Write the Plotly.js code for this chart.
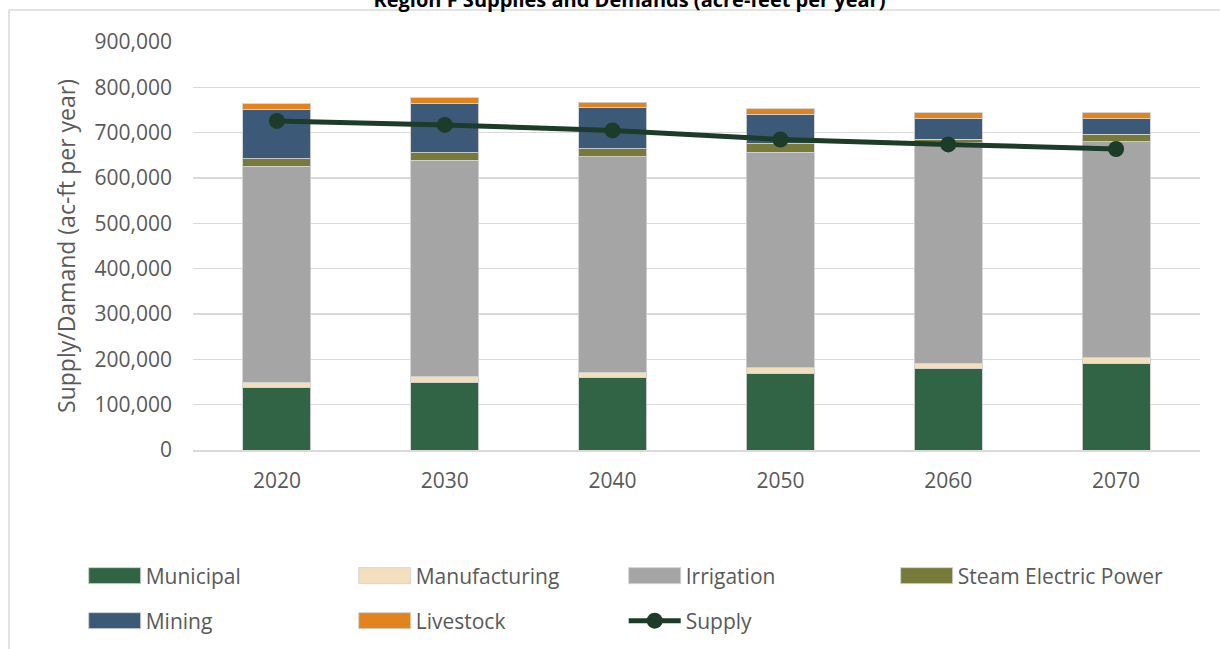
<!DOCTYPE html>
<html>
<head>
<meta charset="utf-8">
<script src="https://cdn.plot.ly/plotly-3.0.1.min.js"></script>
<style>html,body{margin:0;padding:0;background:#fff;}#chart{width:1220px;height:649px;}</style>
</head>
<body>
<div id="chart"></div>
<script>
// Data (acre-feet per year)
var years = ['2020', '2030', '2040', '2050', '2060', '2070'];
var municipal = [137000, 149000, 159000, 168000, 179000, 190000];
var manufacturing = [12000, 13000, 12000, 13000, 12000, 13000];
var irrigation = [477000, 477000, 476000, 476000, 487000, 477000];
var steamElectric = [17000, 17000, 18000, 19000, 8000, 17000];
var mining = [108000, 109000, 90000, 65000, 46000, 34000];
var livestock = [13000, 12000, 12000, 12000, 12000, 13000];
var supply = [726000, 717000, 705000, 685000, 674000, 664000];

var yTickVals = [0, 100000, 200000, 300000, 400000, 500000, 600000, 700000, 800000, 900000];
var yTickText = ['0', '100,000', '200,000', '300,000', '400,000', '500,000', '600,000', '700,000', '800,000', '900,000'];

var FONT = 'Open Sans, Liberation Sans, sans-serif';
var TXT = '#595959';
var edge = {color: 'rgba(210,210,210,0.9)', width: 1};

function barTrace(name, vals, color, leg) {
  return {type: 'bar', name: name, x: years, y: vals,
    marker: {color: color, line: edge}, legend: leg, hoverinfo: 'skip'};
}

var traces = [
  barTrace('Municipal', municipal, '#306444', 'legend'),
  barTrace('Manufacturing', manufacturing, '#f3dfbe', 'legend'),
  barTrace('Irrigation', irrigation, '#a5a5a5', 'legend'),
  barTrace('Steam Electric Power', steamElectric, '#787a3a', 'legend3'),
  barTrace('Mining', mining, '#3c5a78', 'legend2'),
  barTrace('Livestock', livestock, '#e2831d', 'legend2'),
  {type: 'scatter', mode: 'lines+markers', name: 'Supply', x: years, y: supply,
   line: {color: '#1d3b29', width: 5}, marker: {color: '#1d3b29', size: 16},
   legend: 'legend2', hoverinfo: 'skip'}
];

var legendBase = {
  orientation: 'h', xref: 'container', yref: 'container', xanchor: 'left', yanchor: 'middle',
  x: 0.0686, entrywidth: 203, entrywidthmode: 'pixels', itemwidth: 52,
  font: {family: FONT, size: 21, color: TXT}, bgcolor: 'rgba(0,0,0,0)', traceorder: 'normal'
};

var layout = {
  width: 1220, height: 649,
  margin: {l: 193, r: 20, t: 42, b: 199},
  paper_bgcolor: '#ffffff', plot_bgcolor: '#ffffff',
  barmode: 'stack', bargap: 0.595,
  font: {family: FONT, color: TXT},
  title: {text: '<b>Region F Supplies and Demands (acre-feet per year)</b>',
    font: {family: FONT, size: 20, color: '#000000'},
    x: 0.516, xanchor: 'center', y: 1, yref: 'container', yanchor: 'middle'},
  xaxis: {type: 'category', showgrid: false, showline: true, linecolor: '#d9d9d9', linewidth: 1.5,
    ticks: '', tickfont: {family: FONT, size: 21, color: TXT}, ticklabelstandoff: 11, fixedrange: true},
  yaxis: {range: [0, 900000], tickvals: yTickVals, ticktext: yTickText,
    showgrid: true, gridcolor: '#d9d9d9', gridwidth: 1.5, zeroline: false, showline: false,
    ticks: '', tickfont: {family: FONT, size: 21, color: TXT}, ticklabelstandoff: 20,
    title: {text: 'Supply/Damand (ac-ft per year)', font: {family: FONT, size: 23, color: TXT}, standoff: 12},
    fixedrange: true},
  legend: Object.assign({}, legendBase, {y: 1 - 576 / 649}),
  legend3: Object.assign({}, legendBase, {x: 0.0686 + 812 / 1220, y: 1 - 576 / 649}),
  legend2: Object.assign({}, legendBase, {y: 1 - 621 / 649}),
  shapes: [{type: 'rect', xref: 'paper', yref: 'paper', x0: -0.1827, x1: 1.1, y0: -0.7, y1: 1.0784,
    line: {color: '#d9d9d9', width: 1.5}, fillcolor: 'rgba(0,0,0,0)', layer: 'below'}],
  showlegend: true
};

Plotly.newPlot('chart', traces, layout, {displayModeBar: false, staticPlot: true}).then(function () {
  // enlarge bar legend swatches to Excel-like rectangles
  document.querySelectorAll('.legendpoints path').forEach(function (p) {
    var d = p.getAttribute('d') || '';
    if (/^M6,6H-6V-6H6Z$/.test(d)) { p.setAttribute('d', 'M-26,-8H26V8H-26Z'); }
  });
});
</script>
</body>
</html>
